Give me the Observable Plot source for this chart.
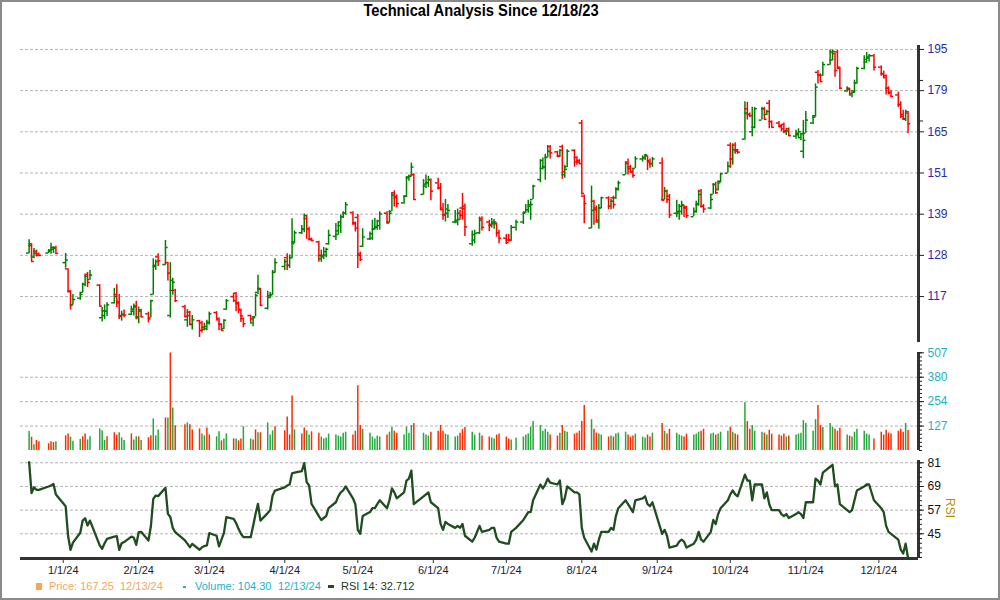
<!DOCTYPE html>
<html>
<head>
<meta charset="utf-8">
<script src="https://cdn.jsdelivr.net/npm/d3@7"></script>
<script src="https://cdn.jsdelivr.net/npm/@observablehq/plot@0.6"></script>
<style>
html,body{margin:0;padding:0;background:#fff;}
#chart{position:relative;width:1000px;height:600px;overflow:hidden;background:#fff;font-family:"Liberation Sans",Arial,sans-serif;}
#border{position:absolute;left:0;top:0;width:1000px;height:600px;box-sizing:border-box;border:2px solid #8a8a8a;pointer-events:none;}
.panel{position:absolute;left:0;width:1000px;}
.panel svg{overflow:visible;display:block;}
#title{position:absolute;left:0;width:962px;top:1px;text-align:center;font-family:"Liberation Sans",Arial,sans-serif;font-weight:bold;font-size:16px;line-height:20px;color:#000;transform:scaleX(0.918);transform-origin:481px 10px;}
#rsiLabel{position:absolute;left:950px;top:508px;transform:translate(-50%,-50%) rotate(90deg);font-size:12px;color:#b38f00;}
.lg{position:absolute;font-size:11px;white-space:pre;line-height:13px;}
.mk{position:absolute;}
</style>
</head>
<body>
<div id="chart">
  <div id="title">Technical Analysis Since 12/18/23</div>
  <div id="pPrice" class="panel" style="top:40px"></div>
  <div id="pVol" class="panel" style="top:345px"></div>
  <div id="pRsi" class="panel" style="top:450px"></div>
  <div id="rsiLabel">RSI</div>
  <div class="mk" style="left:36px;top:583px;width:6px;height:7px;background:#f5a55c;"></div>
  <div class="lg" id="lgPrice" style="left:49px;top:580px;color:#f5a55c"></div>
  <div class="lg" id="lgPriceDate" style="left:120px;top:580px;color:#f5a55c"></div>
  <div class="mk" style="left:183px;top:586px;width:3px;height:2px;background:#1ab3c4;"></div>
  <div class="lg" id="lgVol" style="left:195px;top:580px;color:#1ab3c4"></div>
  <div class="lg" id="lgVolDate" style="left:278px;top:580px;color:#1ab3c4"></div>
  <div class="mk" style="left:328px;top:585px;width:6px;height:3px;background:#1f4d1f;"></div>
  <div class="lg" id="lgRsi" style="left:341px;top:580px;color:#1b3b1b"></div>
  <div id="border"></div>
</div>
<script>
// ---------------- DATA ----------------
const firstDay = "2023-12-18";
const lastDay = "2024-12-13";
const holidays = ["2023-12-25","2024-01-01","2024-01-15","2024-02-19","2024-03-29","2024-05-27","2024-06-19","2024-07-04","2024-09-02","2024-11-28"];
const monthTicks = ["2024-01-01","2024-02-01","2024-03-01","2024-04-01","2024-05-01","2024-06-01","2024-07-01","2024-08-01","2024-09-01","2024-10-01","2024-11-01","2024-12-01"];
const priceLabels = [117,128,139,151,165,179,195];
const priceMinor = [182.9,168.2];
const volLabels = [127,254,380,507];
const rsiLabels = [45,57,69,81];

// [open, high, low, close] per trading day
const bars = [
[128.0,131.6,127.8,130.5],[130.0,130.5,125.7,125.8],[127.0,129.2,126.5,128.0],[128.5,128.8,127.0,127.4],[127.8,128.0,127.2,127.4],
[128.0,128.9,127.9,128.8],[128.5,130.6,127.7,129.5],[129.0,129.7,127.9,129.3],[129.5,129.8,127.7,127.9],
[125.5,127.9,124.1,126.2],[123.9,123.9,117.9,118.2],[118.3,118.5,113.8,114.9],[115.0,117.5,114.9,116.3],
[116.6,117.8,116.1,117.5],[118.0,120.3,117.8,120.0],[120.0,122.3,119.4,122.0],[122.5,123.0,119.2,120.5],[121.2,123.5,121.0,122.3],
[119.8,119.9,114.6,114.7],[112.0,114.4,111.0,113.6],[112.5,115.0,111.6,113.5],[113.5,115.5,112.3,115.0],
[115.5,119.0,115.2,117.0],[117.5,119.9,114.4,115.5],[115.8,117.5,111.6,112.3],[112.5,113.5,111.2,112.7],[112.8,113.8,112.0,112.6],
[112.8,114.7,112.5,114.0],[113.5,115.2,112.4,114.5],[114.8,115.9,111.5,112.0],[112.2,114.5,110.6,113.8],[113.5,114.0,112.0,112.2],
[112.9,113.3,110.8,111.7],[112.0,116.1,111.9,116.0],[117.5,126.5,117.4,124.8],[124.5,126.2,123.5,125.8],[127.0,127.8,124.5,126.0],
[125.0,131.4,124.8,129.5],[125.5,125.6,120.8,122.8],[112.5,125.5,111.9,121.0],[118.5,121.5,117.3,120.5],[118.5,118.8,115.6,116.0],
[114.6,114.9,111.9,112.3],[111.5,113.9,109.8,112.5],[113.3,113.5,110.3,110.4],[110.5,112.5,109.2,111.5],
[111.3,111.4,107.5,109.1],[110.8,111.2,108.5,109.8],[109.3,110.7,109.0,110.0],[109.5,111.4,109.0,110.8],[111.0,113.3,110.3,112.9],
[113.2,113.4,111.8,111.8],[111.5,111.9,109.0,110.5],[110.5,110.6,109.0,109.1],[109.5,111.5,109.3,111.4],[114.0,116.3,113.7,116.0],
[117.0,117.5,115.6,116.0],[117.8,118.0,113.4,115.3],[115.5,115.7,112.9,113.8],[114.0,114.0,110.9,112.4],[111.8,111.9,109.7,110.6],
[112.5,112.6,110.9,111.7],[110.8,112.3,109.9,112.0],[112.2,117.6,112.2,117.3],[118.0,122.3,117.5,119.0],[118.8,119.0,114.6,114.9],
[114.2,118.3,113.8,117.2],[116.8,118.0,116.5,117.4],[117.5,123.5,117.3,123.0],[123.0,126.5,122.8,125.5],
[124.5,126.3,123.5,125.8],[126.8,127.8,123.5,124.8],[124.8,127.5,124.0,126.8],[126.8,137.4,126.5,130.5],[131.0,134.0,130.5,133.5],
[133.5,135.5,133.0,134.5],[134.5,138.8,133.5,138.3],[137.5,138.4,131.7,134.5],[134.5,135.0,131.4,131.6],[131.8,132.0,131.0,131.4],
[131.0,131.2,125.6,127.4],[126.5,128.8,125.6,127.4],[127.0,129.5,126.3,128.4],[127.5,129.3,126.8,129.0],[130.5,134.2,130.1,132.8],
[132.5,136.1,131.4,134.0],[133.0,136.5,132.8,136.5],[135.5,138.4,133.3,138.0],[138.0,139.4,137.5,139.0],[139.0,142.1,138.4,141.5],
[139.2,139.4,135.6,136.0],[136.3,136.5,133.7,134.8],[137.8,138.6,124.0,127.4],[127.8,128.2,125.8,126.3],[129.8,134.6,129.5,132.3],
[131.8,133.7,131.4,133.2],[132.0,137.0,131.4,134.6],[134.5,137.5,134.2,135.1],[135.0,137.0,134.2,136.8],[135.5,139.4,134.2,138.8],
[139.0,139.4,136.0,136.2],[136.5,139.8,136.2,139.0],[139.5,144.8,139.5,144.3],[145.0,145.6,140.8,143.9],[143.5,144.3,140.6,141.8],
[142.0,144.0,141.6,143.9],[144.0,150.0,143.6,149.8],[149.5,150.4,148.5,150.0],[150.0,154.2,149.8,152.9],[150.5,150.8,142.8,143.0],
[144.5,149.0,144.3,147.6],[147.0,150.4,146.3,148.1],[148.0,150.0,146.5,149.0],[149.0,149.2,142.6,145.5],
[148.0,149.4,145.8,146.5],[146.5,147.8,139.8,140.0],[140.5,141.8,137.0,138.6],[138.5,143.0,136.5,140.2],[139.0,141.5,137.5,139.8],
[136.5,139.8,136.0,137.0],[136.5,140.2,135.4,137.2],[139.0,139.8,137.0,138.4],[140.5,144.8,137.0,140.3],[141.0,141.7,132.5,135.1],
[130.5,134.0,129.8,133.0],[131.5,134.2,130.5,133.3],[133.5,137.9,133.0,137.0],[137.5,138.0,134.0,135.0],
[136.5,137.0,133.8,135.8],[135.5,137.5,134.8,136.5],[136.0,137.2,134.5,136.5],[136.0,136.2,132.3,133.5],[133.5,134.2,130.5,132.0],
[132.0,133.0,130.3,130.8],[131.5,133.0,131.0,131.4],[131.5,135.5,131.2,135.0],[135.0,137.0,134.0,136.5],
[136.5,139.3,135.8,139.3],[139.0,141.5,139.0,140.0],[140.0,142.8,139.0,141.5],[141.0,142.5,137.0,141.5],[143.0,147.3,143.0,147.0],
[149.0,155.3,148.0,155.0],[152.5,155.8,152.0,153.0],[153.0,157.0,148.8,156.0],[156.0,159.9,156.0,158.0],[159.5,159.9,155.5,157.5],
[157.8,158.0,156.0,156.3],[156.5,158.5,156.0,158.3],[159.5,160.0,149.1,151.4],[150.5,153.5,149.4,152.2],[153.0,158.5,152.8,158.0],
[158.3,158.5,152.9,154.5],[156.0,156.2,153.5,154.5],[155.0,155.3,153.8,154.0],[167.5,168.4,144.3,144.8],[144.0,144.3,136.0,141.8],
[134.8,147.0,134.6,139.8],[142.5,142.8,135.6,140.0],[140.5,141.1,136.2,137.0],[136.5,141.5,134.5,140.5],[140.5,143.7,140.3,143.5],
[143.5,143.8,140.0,141.0],[141.0,143.0,140.0,142.5],[143.5,144.0,140.2,141.5],[143.5,146.5,143.0,146.2],[146.0,148.5,145.5,148.0],
[150.5,154.5,150.4,154.0],[154.5,155.5,150.4,152.4],[153.0,153.5,150.9,151.4],[151.5,152.4,149.4,150.3],[152.5,156.2,152.5,155.6],
[155.5,156.5,154.5,156.0],[155.8,157.0,155.0,156.8],[156.5,156.5,151.8,154.5],[155.0,155.5,152.5,154.0],[154.0,156.0,152.8,155.5],
[154.2,155.8,142.5,142.8],[143.0,146.6,142.8,145.5],[145.5,145.8,141.8,143.0],[144.0,144.5,137.5,138.5],
[139.0,142.8,137.8,139.5],[139.0,141.5,137.0,141.0],[139.5,142.5,138.5,141.5],[141.2,141.3,137.8,140.8],[140.5,141.0,137.5,138.3],
[138.0,140.5,138.0,139.5],[139.5,142.5,139.0,141.8],[141.5,145.8,141.0,144.5],[145.5,146.0,140.5,141.0],[141.0,141.5,139.0,140.2],
[140.5,144.5,140.0,143.0],[144.5,147.8,144.5,147.5],[147.5,148.2,144.5,145.0],[146.0,148.5,145.5,148.0],[148.5,151.0,148.0,150.8],
[151.0,154.5,151.0,153.2],[160.0,160.7,152.5,155.5],[155.5,160.5,153.5,158.5],[160.0,160.8,157.0,158.0],[158.5,158.6,157.0,157.7],
[162.0,175.0,161.6,171.0],[172.5,174.8,168.5,170.5],[170.5,171.0,169.5,170.0],[164.5,173.0,162.8,166.0],[166.0,173.0,165.5,172.5],
[168.5,173.0,168.5,172.5],[172.5,173.0,168.5,168.8],[170.5,172.0,170.0,171.5],[174.5,175.5,165.5,168.0],[168.0,168.2,165.8,166.0],
[167.5,168.0,166.0,166.2],[166.5,167.0,164.5,165.5],[167.0,167.5,163.8,164.8],[164.5,165.2,163.2,164.8],[165.5,165.8,162.8,163.2],
[163.0,165.0,162.0,164.0],[163.5,165.5,162.5,164.5],[162.5,164.0,161.5,163.8],[158.0,168.4,155.6,161.6],[164.0,171.5,164.0,168.5],
[167.5,170.1,167.0,169.5],[170.0,181.6,169.5,180.4],[186.0,186.7,181.6,184.8],[185.0,185.4,182.3,182.5],[184.8,189.9,184.5,189.0],
[189.0,194.8,188.7,194.0],[190.8,194.8,190.4,194.2],[193.3,193.5,184.1,186.7],[194.0,194.6,187.3,188.0],[187.5,188.0,179.4,180.0],
[179.0,180.5,178.5,179.5],[180.0,180.0,177.5,178.0],[177.5,178.5,176.5,178.5],[179.0,183.0,178.0,182.0],[182.0,188.0,181.5,187.5],
[187.5,192.5,187.0,191.0],[190.0,193.8,189.5,192.0],[191.5,193.0,190.0,192.5],[192.5,193.0,186.5,188.0],
[188.0,188.5,184.5,185.5],[185.5,186.5,183.5,184.8],[184.0,185.0,177.5,180.0],[180.0,180.5,177.5,178.2],[178.5,179.0,176.5,177.0],
[177.5,178.5,173.0,174.0],[174.0,175.0,169.0,169.8],[170.5,172.0,168.5,168.8],[169.0,172.0,168.0,171.5],[171.0,171.5,163.8,167.25]
];

const volume = [
98,69,30,52,45, 35,45,41,45, 76,86,69,48, 57,71,86,55,71, 112,102,52,71,
92,81,92,66,52, 86,55,71,71,52, 66,76,164,76,107, 169,169,506,221,128, 133,143,133,107,
112,86,76,117,81, 71,97,50,60,86, 60,60,50,60,123, 60,55,107,92,92, 143,81,102,123,
102,174,81,283,107, 86,117,102,81,97,
90,70,60,65,85, 80,75,70,90,95, 80,100,336,130,110, 90,70,60,75,70, 80,95,120,100,90,
80,120,90,130,140, 90,80,75,95, 100,130,100,85,80, 70,75,90,110,120, 95,80,90,75,
70,65,60,80,85, 70,60,55,65, 70,80,85,120,150, 130,100,110,95,80, 75,90,130,100,95,
85,90,100,150,233, 160,110,90,85,80, 70,75,70,85,90, 95,80,70,75,85, 70,65,80,70,90,
140,100,85,110, 90,80,75,70,85, 80,85,95,100,110, 85,90,80,85,95, 100,120,95,85,80,
248,150,110,130,100, 95,90,80,105,85, 80,75,85,70,75, 80,85,90,155,140, 100,160,233,130,120,
140,120,110,100,115, 80,75,70,95,110, 100,85,80,60, 95,80,105,90,85, 100,110,95,140,104.30
];

// u = up (green) volume bar, d = down (red), read week by week
const volDir = "ududd" + "dddu" + "dduu" + "udduu" + "uuud" + "dduuu" + "duudu" + "dduuu" + "dudud" + "dudd" +
               "duudd" + "uuduu" + "duddu" + "uddud" + "uuud" + "ddddu" + "dduud";

const rsi = [
81.3,65.6,68.6,67.3,67.3, 69.0,69.5,70.3,64.9, 59.0,44.0,36.9,40.5, 45.5,51.7,52.9,49.2,51.7,
39.1,37.4,40.2,42.4, 43.6,43.8,36.9,40.2,40.8, 43.6,43.0,39.4,45.8,46.0, 41.6,48.7,62.7,64.4,64.1,
68.3,55.1,53.5,48.0,45.8, 41.6,40.0,38.2,39.9, 36.9,38.2,38.8,39.1,45.3, 44.0,38.6,42.0,45.3,53.4,
52.6,50.5,47.5,45.0,43.3, 43.3,49.0,55.0,60.2,51.7, 55.5,57.0,64.4,66.9, 68.5,69.5,70.0,75.7,76.0,
76.8,80.8,71.2,69.5,60.2,
54,52,53,54,58, 61,64,66,67,69, 63,60,47,45,54, 56,58,58,60,62, 58,62,68,66,63,
66,72,73,77,60, 64,65,66,61, 58,50,47,51,50, 48,49,48,50,44, 41,43,49,46,
47,48,48,43,41, 40,40,46,48, 52,54,56,56,62, 70,68,70,73,71, 70,72,60,63,69,
66,66,65,48,43, 36,40,37,42,46, 46,48,47,54,58, 62,60,58,56,62, 63,64,60,59,61,
45,47,44,38, 39,41,42,41,38, 40,42,46,42,41, 46,52,50,55,58, 62,65,67,65,64,
75,72,72,62,70, 70,63,66,60,57, 57,55,54,55,53, 55,56,55,53,61, 61,73,72,70,76,
79,80,69,70,60, 57,56,57,62,67, 69,70,70,62, 58,56,49,46,45, 42,37,35,40,32.712
];

// ---------------- BUILD ----------------
const fmtISO = d3.utcFormat("%Y-%m-%d");
const dates = [];
for (let d = new Date(firstDay + "T00:00:00Z"); d <= new Date(lastDay + "T00:00:00Z"); d = d3.utcDay.offset(d, 1)) {
  const wd = d.getUTCDay();
  if (wd === 0 || wd === 6) continue;
  if (holidays.includes(fmtISO(d))) continue;
  dates.push(d);
}

const UP = "#008000", DOWN = "#ff0000", VUP = "#22a83c", VDOWN = "#ff2a00";
const rows = dates.map((date, i) => {
  const b = bars[i] || bars[bars.length - 1];
  const o = b[0], h = b[1], l = b[2], c = b[3];
  const vd = i < volDir.length ? volDir[i] === "u" : c >= o;
  return {date, o, h, l, c, v: volume[i], rsi: rsi[i],
    col: c >= o ? UP : DOWN, vcol: vd ? VUP : VDOWN};
});

const W = 1000, ML = 20, MR = 82;
const xDomain = [new Date("2023-12-14T11:00:00Z"), new Date("2024-12-17T07:00:00Z")];
const xOpt = {type: "utc", domain: xDomain, axis: null};
const tickMs = 1.1 * 864e5;
const style = {fontFamily: "'Liberation Sans', Arial, sans-serif", fontSize: "12px", overflow: "visible", background: "transparent"};
const gridStyle = {stroke: "#b3b3b3", strokeDasharray: "3,2", strokeWidth: 1};

// price: log axis, labels evenly spaced (geometric)
const pLo = priceLabels[0], pHi = priceLabels[priceLabels.length - 1];
const priceTickPos = priceLabels.map((_, i) => pLo * Math.pow(pHi / pLo, i / (priceLabels.length - 1)));
const priceLabelMap = new Map(priceTickPos.map((p, i) => [p, String(priceLabels[i])]));

const pricePlot = Plot.plot({
  width: W, height: 305, marginLeft: ML, marginRight: MR, marginTop: 5, marginBottom: 3,
  x: xOpt,
  y: {type: "log", domain: [106.4, 196.6], axis: null, label: null},
  color: {type: "identity"},
  style,
  marks: [
    Plot.ruleY(priceTickPos, gridStyle),
    Plot.ruleX(rows, {x: "date", y1: "l", y2: "h", stroke: "col", strokeWidth: 1.5}),
    Plot.ruleY(rows, {y: "o", x1: d => new Date(+d.date - tickMs), x2: "date", stroke: "col", strokeWidth: 1.5}),
    Plot.ruleY(rows, {y: "c", x1: "date", x2: d => new Date(+d.date + tickMs), stroke: "col", strokeWidth: 1.5}),
    Plot.ruleX([xDomain[1]], {stroke: "#333", strokeWidth: 3}),
    Plot.axisY(priceTickPos, {anchor: "right", tickSize: 5, tickPadding: 4, tickFormat: d => priceLabelMap.get(d), stroke: "#222", fill: "#2b2ba8", fontSize: 12, label: null}),
    Plot.axisY(priceMinor, {anchor: "right", tickSize: 4, tickFormat: () => "", stroke: "#222", label: null})
  ]
});
document.getElementById("pPrice").append(pricePlot);

// volume
const vMax = volLabels[volLabels.length - 1];
const volTickPos = volLabels.map((_, i) => vMax * (i + 1) / volLabels.length);
const volLabelMap = new Map(volTickPos.map((p, i) => [p, String(volLabels[i])]));
const volMinor = d3.range(0, 25).map(k => vMax * k / 24);
const volPlot = Plot.plot({
  width: W, height: 108, marginLeft: ML, marginRight: MR, marginTop: 7, marginBottom: 3,
  x: xOpt,
  y: {domain: [0, vMax * 98.3 / 98], axis: null, label: null},
  color: {type: "identity"},
  style,
  marks: [
    Plot.ruleY(volTickPos.slice(0, 3), gridStyle),
    Plot.ruleX(rows, {x: "date", y1: 0, y2: "v", stroke: "vcol", strokeWidth: 1.5}),
    Plot.ruleX([xDomain[1]], {stroke: "#333", strokeWidth: 3}),
    Plot.axisY(volTickPos, {anchor: "right", tickSize: 5, tickPadding: 4, tickFormat: d => volLabelMap.get(d), stroke: "#222", fill: "#1ab3c4", fontSize: 12, label: null}),
    Plot.axisY(volMinor, {anchor: "right", tickSize: 3, tickFormat: () => "", stroke: "#222", label: null})
  ]
});
document.getElementById("pVol").append(volPlot);

// RSI
const rsiMinor = d3.range(0, 21).map(k => 81 - 2.4 * k);
const rsiLo = 32.47, rsiHi = 82.17;
const rsiPlot = Plot.plot({
  width: W, height: 130, marginLeft: ML, marginRight: MR, marginTop: 10, marginBottom: 22,
  x: xOpt,
  y: {domain: [rsiLo, rsiHi], axis: null, label: null},
  style,
  marks: [
    Plot.ruleY(rsiLabels, gridStyle),
    Plot.line(rows, {x: "date", y: "rsi", stroke: "#1f4d1f", strokeWidth: 2.3}),
    Plot.ruleY([rsiLo], {stroke: "#333", strokeWidth: 3}),
    Plot.ruleX([xDomain[1]], {stroke: "#333", strokeWidth: 3}),
    Plot.axisY(rsiLabels, {anchor: "right", tickSize: 5, tickPadding: 4, stroke: "#222", fill: "#111", fontSize: 12, label: null}),
    Plot.axisY(rsiMinor, {anchor: "right", tickSize: 3, tickFormat: () => "", stroke: "#222", label: null}),
    Plot.axisX(monthTicks.map(s => new Date(s + "T00:00:00Z")), {anchor: "bottom", tickSize: 5, tickPadding: 3, tickFormat: d3.utcFormat("%-m/%-d/%y"), stroke: "#333", fill: "#1a1a3a", fontSize: 11, label: null})
  ]
});
document.getElementById("pRsi").append(rsiPlot);

// legend
const last = rows[rows.length - 1];
const fmtDate = d3.utcFormat("%-m/%-d/%y");
document.getElementById("lgPrice").textContent = "Price: " + last.c.toFixed(2);
document.getElementById("lgPriceDate").textContent = fmtDate(last.date);
document.getElementById("lgVol").textContent = "Volume: " + last.v.toFixed(2);
document.getElementById("lgVolDate").textContent = fmtDate(last.date);
document.getElementById("lgRsi").textContent = "RSI 14: " + last.rsi.toFixed(3);
</script>
</body>
</html>
